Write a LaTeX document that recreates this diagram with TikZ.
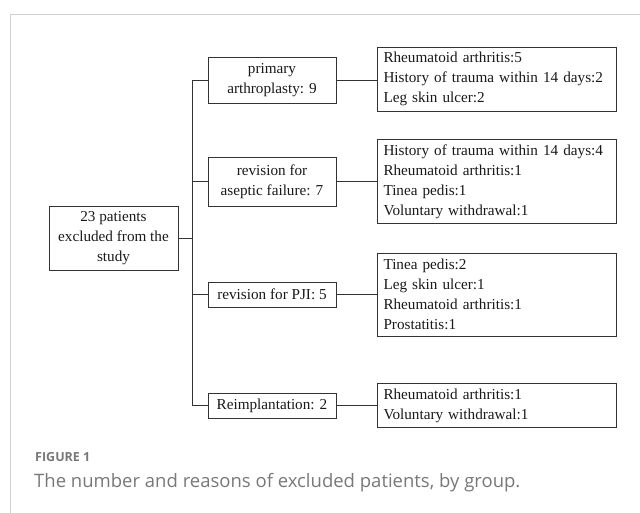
\documentclass[tikz,border=0pt]{standalone}
\usepackage{fontspec}
\setmainfont{Liberation Serif}
\newfontfamily\capfont{Open Sans}
\usepackage{xcolor}
\usepackage{tikz}
\usetikzlibrary{positioning, calc}

\definecolor{framegray}{HTML}{D0D0D0}
\definecolor{linegray}{HTML}{333333}
\definecolor{capgray}{HTML}{787878}

\tikzset{
  box/.style={draw=linegray, line width=0.9pt, inner sep=0pt, text=black!90},
  groupbox/.style={box, minimum width=128, align=center},
  reasonbox/.style={box, minimum width=239, text width=226, align=left},
  link/.style={draw=linegray, line width=0.9pt}
}

\begin{document}
\begin{tikzpicture}[x=1pt, y=-1pt, font=\fontsize{15.2}{20}\selectfont]
\useasboundingbox (0,0) rectangle (640,513);
% journal frame
\draw[framegray, line width=0.8pt] (640,14) -- (10,14) -- (10,513);

% root
\node[box, minimum width=129, minimum height=64, align=center] (root) at (113.5,238) {23 patients\\excluded from the\\study};

% groups
\node[groupbox, minimum height=46] (prim) at (272,80) {primary\\arthroplasty: 9};
\node[groupbox, minimum height=49] (asep) at (272,181.5) {revision for\\aseptic failure: 7};
\node[groupbox, minimum height=25] (pji) at (272,294.5) {revision for PJI: 5};
\node[groupbox, minimum height=25] (reimp) at (272,405.5) {Reimplantation: 2};

% reasons
\node[reasonbox, minimum height=64] (why1) at (496.5,79) {Rheumatoid arthritis:5\\History of trauma within 14 days:2\\Leg skin ulcer:2};
\node[reasonbox, minimum height=84] (why2) at (496.5,181.5) {History of trauma within 14 days:4\\Rheumatoid arthritis:1\\Tinea pedis:1\\Voluntary withdrawal:1};
\node[reasonbox, minimum height=83] (why3) at (496.5,294.5) {Tinea pedis:2\\Leg skin ulcer:1\\Rheumatoid arthritis:1\\Prostatitis:1};
\node[reasonbox, minimum height=44] (why4) at (496.5,405.5) {Rheumatoid arthritis:1\\Voluntary withdrawal:1};

% tree lines
\draw[link] (prim.west) -- ++(-15,0) coordinate (trunk) |- (reimp.west);
\draw[link] (asep.west) -- (asep.west -| trunk);
\draw[link] (pji.west) -- (pji.west -| trunk);
\draw[link] (root.east) -- (root.east -| trunk);
\foreach \g/\r in {prim/why1, asep/why2, pji/why3, reimp/why4}
  \draw[link] (\g.east) -- (\g.east -| \r.west);

% caption
\node[anchor=west, inner sep=0pt, font=\capfont\bfseries\fontsize{12.5}{14}\selectfont, text=capgray] (figno) at (35,457) {FIGURE 1};
\node[anchor=west, inner sep=0pt, font=\capfont\fontsize{18.5}{22}\selectfont, text=capgray] (caption) at (34,483) {The number and reasons of excluded patients, by group.};
\end{tikzpicture}
\end{document}
